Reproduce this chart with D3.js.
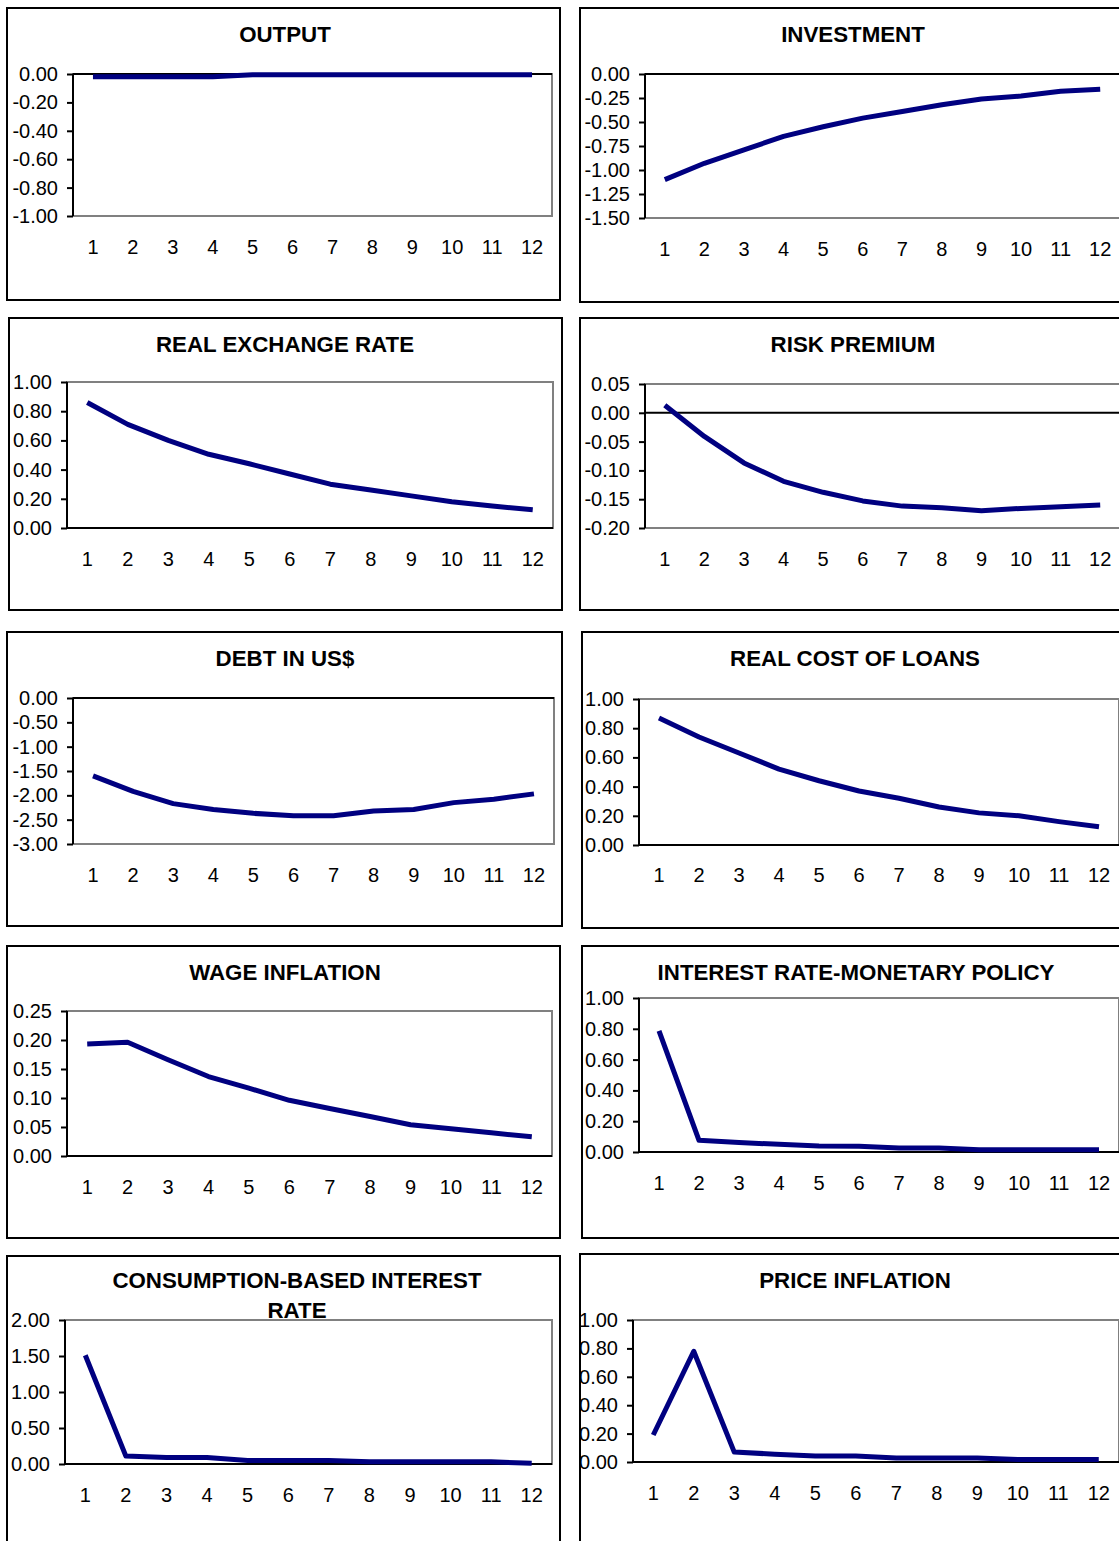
<!DOCTYPE html>
<html>
<head>
<meta charset="utf-8">
<script src="https://cdn.jsdelivr.net/npm/d3@7"></script>
<style>
  body { margin: 0; background: #fff; }
  svg { display: block; }
  text { font-family: "Liberation Sans", Arial, sans-serif; fill: #000; }
</style>
</head>
<body>
<div id="chart"></div>
<script>
var svgWidth = 1119;
var svgHeight = 1541;

// periods on the x axis
var periods = [1, 2, 3, 4, 5, 6, 7, 8, 9, 10, 11, 12];

var titles = [
  ["OUTPUT"],
  ["INVESTMENT"],
  ["REAL EXCHANGE RATE"],
  ["RISK PREMIUM"],
  ["DEBT IN US$"],
  ["REAL COST OF LOANS"],
  ["WAGE INFLATION"],
  ["INTEREST RATE-MONETARY POLICY"],
  ["CONSUMPTION-BASED INTEREST", "RATE"],
  ["PRICE INFLATION"]
];

var output      = [-0.02, -0.02, -0.02, -0.02, -0.006, -0.005, -0.005, -0.005, -0.005, -0.005, -0.005, -0.005];
var investment  = [-1.10, -0.93, -0.79, -0.65, -0.55, -0.46, -0.39, -0.32, -0.26, -0.23, -0.18, -0.16];
var realExRate  = [0.86, 0.71, 0.60, 0.505, 0.44, 0.37, 0.30, 0.26, 0.22, 0.18, 0.15, 0.125];
var riskPremium = [0.013, -0.041, -0.087, -0.119, -0.138, -0.153, -0.162, -0.165, -0.170, -0.166, -0.163, -0.160];
var debtUsd     = [-1.60, -1.92, -2.17, -2.29, -2.37, -2.42, -2.42, -2.32, -2.29, -2.15, -2.08, -1.97];
var realLoans   = [0.87, 0.74, 0.63, 0.52, 0.44, 0.37, 0.32, 0.26, 0.22, 0.20, 0.16, 0.125];
var wageInfl    = [0.193, 0.196, 0.166, 0.137, 0.117, 0.096, 0.082, 0.068, 0.054, 0.047, 0.040, 0.033];
var policyRate  = [0.786, 0.076, 0.061, 0.050, 0.039, 0.037, 0.026, 0.026, 0.015, 0.015, 0.015, 0.015];
var consRate    = [1.51, 0.11, 0.09, 0.09, 0.05, 0.05, 0.05, 0.03, 0.03, 0.03, 0.03, 0.01];
var priceInfl   = [0.19, 0.78, 0.07, 0.055, 0.042, 0.042, 0.028, 0.028, 0.028, 0.017, 0.017, 0.017];

var series = [output, investment, realExRate, riskPremium, debtUsd, realLoans, wageInfl, policyRate, consRate, priceInfl];

// y tick labels per panel
var yTicks = [
  [0, -0.2, -0.4, -0.6, -0.8, -1.0],
  [0, -0.25, -0.5, -0.75, -1.0, -1.25, -1.5],
  [1.0, 0.8, 0.6, 0.4, 0.2, 0],
  [0.05, 0, -0.05, -0.1, -0.15, -0.2],
  [0, -0.5, -1.0, -1.5, -2.0, -2.5, -3.0],
  [1.0, 0.8, 0.6, 0.4, 0.2, 0],
  [0.25, 0.2, 0.15, 0.1, 0.05, 0],
  [1.0, 0.8, 0.6, 0.4, 0.2, 0],
  [2.0, 1.5, 1.0, 0.5, 0],
  [1.0, 0.8, 0.6, 0.4, 0.2, 0]
];

// panel geometry: outer box, plot area, title centre, x label row
var layout = [
  {box: [7, 8, 553, 292],    plot: [73, 74, 552, 216],     tx: 285, ty: 34,   ly: 247},
  {box: [580, 8, 548, 294],  plot: [645, 74, 1120, 218],   tx: 853, ty: 34,   ly: 249},
  {box: [9, 318, 553, 292],  plot: [67, 382, 553, 528],    tx: 285, ty: 344,  ly: 559},
  {box: [580, 318, 548, 292],plot: [645, 384, 1120, 528],  tx: 853, ty: 344,  ly: 559},
  {box: [7, 632, 555, 294],  plot: [73, 698, 554, 844],    tx: 285, ty: 658,  ly: 875},
  {box: [582, 632, 546, 296],plot: [639, 699, 1119, 845],  tx: 855, ty: 658,  ly: 875},
  {box: [7, 946, 553, 292],  plot: [67, 1011, 552, 1156],  tx: 285, ty: 972,  ly: 1187},
  {box: [582, 946, 546, 292],plot: [639, 998, 1119, 1152], tx: 856, ty: 972,  ly: 1183},
  {box: [7, 1256, 553, 300], plot: [65, 1320, 552, 1464],  tx: 297, ty: 1280, ly: 1495},
  {box: [580, 1254, 548, 300],plot: [633, 1320, 1119, 1462],tx: 855, ty: 1280, ly: 1493}
];

var svg = d3.select("#chart")
  .append("svg")
  .attr("width", svgWidth)
  .attr("height", svgHeight);

var fmt = function(d) { return d.toFixed(2); };

series.forEach(function(values, i) {
  var L = layout[i];
  var ticks = yTicks[i];
  var g = svg.append("g");

  // outer frame
  g.append("rect")
    .attr("x", L.box[0]).attr("y", L.box[1])
    .attr("width", L.box[2]).attr("height", L.box[3])
    .attr("fill", "#fff")
    .attr("stroke", "#000")
    .attr("stroke-width", 2);

  // title
  titles[i].forEach(function(line, k) {
    g.append("text")
      .attr("x", L.tx)
      .attr("y", L.ty + k * 30)
      .attr("dy", "0.36em")
      .attr("text-anchor", "middle")
      .attr("font-size", "22.3px")
      .attr("font-weight", "bold")
      .text(line);
  });

  var left = L.plot[0], top = L.plot[1], right = L.plot[2], bottom = L.plot[3];

  var x = d3.scaleBand()
    .domain(periods)
    .range([left, right]);

  var y = d3.scaleLinear()
    .domain(d3.extent(ticks))
    .range([bottom, top]);

  // plot area border (grey)
  g.append("rect")
    .attr("x", left).attr("y", top)
    .attr("width", right - left).attr("height", bottom - top)
    .attr("fill", "none")
    .attr("stroke", "#808080")
    .attr("stroke-width", 2);

  // horizontal axis line at zero
  g.append("line")
    .attr("x1", left).attr("x2", right)
    .attr("y1", y(0)).attr("y2", y(0))
    .attr("stroke", "#000")
    .attr("stroke-width", 2);

  // y axis
  var yAxis = g.append("g")
    .attr("transform", `translate(${left}, 0)`)
    .call(d3.axisLeft(y).tickValues(ticks).tickFormat(fmt).tickSize(6).tickPadding(9));
  yAxis.select(".domain").attr("stroke", "#000").attr("stroke-width", 2)
    .attr("d", `M0,${bottom}V${top}`);
  yAxis.selectAll(".tick line").attr("stroke", "#000").attr("stroke-width", 2);
  yAxis.selectAll(".tick text")
    .attr("font-size", "20px")
    .attr("font-family", "Liberation Sans, Arial, sans-serif")
    .attr("fill", "#000");

  // x labels sit below the plot
  var xAxis = g.append("g")
    .attr("transform", `translate(0, ${L.ly})`)
    .call(d3.axisBottom(x).tickSize(0).tickPadding(0));
  xAxis.select(".domain").remove();
  xAxis.selectAll(".tick text")
    .attr("y", 0)
    .attr("dy", "0.36em")
    .attr("font-size", "20px")
    .attr("font-family", "Liberation Sans, Arial, sans-serif")
    .attr("fill", "#000");

  // response line
  var line = d3.line()
    .x(function(d, j) { return x(periods[j]) + x.bandwidth() / 2; })
    .y(function(d) { return y(d); });

  g.append("path")
    .datum(values)
    .attr("d", line)
    .attr("fill", "none")
    .attr("stroke", "#000080")
    .attr("stroke-width", 5)
    .attr("stroke-linejoin", "round");
});
</script>
</body>
</html>
